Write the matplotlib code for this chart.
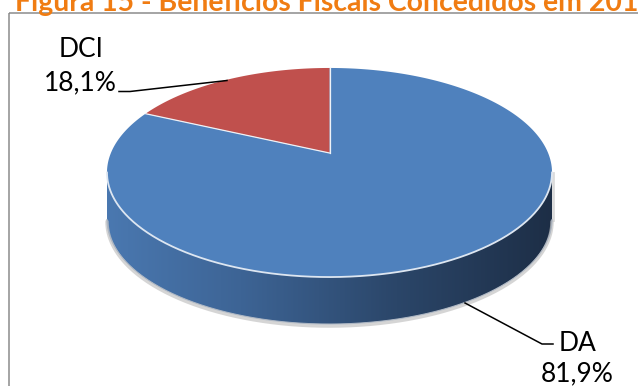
import numpy as np
import matplotlib.pyplot as plt
from matplotlib.patches import Polygon, Rectangle
from matplotlib.colors import LinearSegmentedColormap

# chart data
labels = ['DA', 'DCI']
shares = [81.9, 18.1]
top_colors = ['#4F81BD', '#C0504D']
title = 'Figura 15 - Benefícios Fiscais Concedidos em 201'

W, H = 638, 386
fig = plt.figure(figsize=(W / 100, H / 100), dpi=100, facecolor='white')
ax = fig.add_axes([0, 0, 1, 1])

# perspective of the tilted disc, in pixel units
cx, cy = 329.5, 153.0
A, B, k = 218.6, 100.9, 0.1866
depth = 47


def proj(theta, dy=0.0):
    t = np.radians(theta)
    s = 1 + k * np.sin(t)
    return cx + A * np.cos(t) / s, cy - B * np.sin(t) / s + dy


# side of the cylinder (front half only)
a = np.degrees(np.arcsin(k))
ts = np.linspace(180 + a, 360 - a, 300)
tx, ty = proj(ts)
bx, by = proj(ts, depth)

# soft shadow below the side
ax.plot(bx, by + 2, color='#C4C4C4', lw=2.5, alpha=0.7, solid_capstyle='round')
ax.plot([tx[-1] + 1, bx[-1] + 1], [ty[-1], by[-1]], color='#C4C4C4', lw=2, alpha=0.6)

side = Polygon(np.column_stack([np.r_[tx, bx[::-1]], np.r_[ty, by[::-1]]]),
               closed=True, facecolor='none', edgecolor='none')
ax.add_patch(side)
side_cmap = LinearSegmentedColormap.from_list(
    'side', [(0, '#4A78B0'), (0.3, '#3D6495'), (0.65, '#2B4669'), (1, '#1D2E46')])
grad = np.linspace(0, 1, 256).reshape(1, -1)
im = ax.imshow(grad, cmap=side_cmap, extent=(tx.min(), tx.max(), by.max() + 2, ty.min() - 2),
               aspect='auto', interpolation='bilinear')
im.set_clip_path(side)
ax.plot(bx, by, color='#AEB7C3', lw=0.8)

# top slices, clockwise from 12 o'clock
start = 90.0
total = sum(shares)
edges = []
for v, c in zip(shares, top_colors):
    sweep = 360 * v / total
    th = np.linspace(start, start - sweep, 300)
    px, py = proj(th)
    ax.add_patch(Polygon(np.column_stack([np.r_[cx, px], np.r_[cy, py]]),
                         closed=True, facecolor=c, edgecolor='none'))
    edges.append(start)
    start -= sweep

for e in edges:
    ex, ey = proj(e)
    ax.plot([cx, ex], [cy, ey], color='#EEF2F7', lw=0.9)
ax.plot(tx, ty, color='#DDE6F1', lw=1.3)

# labels and leader lines
pct = [f'{v:.1f}'.replace('.', ',') + '%' for v in shares]
font = dict(family='Lato', fontsize=19, color='black', ha='center', va='baseline')

ax.text(81, 57, labels[1], **font)
ax.text(80, 90, pct[1], **font)
ax.plot([119, 130, 227], [91.5, 91.5, 80.5], color='black', lw=1.1)

ax.text(577.5, 351, labels[0], **font)
ax.text(577.5, 381, pct[0], **font)
ax.plot([465, 542, 553], [303, 344, 344], color='black', lw=1.1)

# chart frame
ax.add_patch(Rectangle((9, 13), 800, 600, fill=False, edgecolor='#8C8C8C', lw=1.1))

ax.set_xlim(0, W)
ax.set_ylim(H, 0)
ax.axis('off')

# title, cut at the top like the source
t = fig.text(15 / W, 1 - 11 / H, title, fontsize=10, fontweight='bold',
             family='Lato', color='#F07C12', ha='left', va='baseline')
r = fig.canvas.get_renderer()
wpx = t.get_window_extent(renderer=r).width
t.set_fontsize(10 * 625 / wpx)

fig.savefig('out.png', dpi=100, facecolor='white')
